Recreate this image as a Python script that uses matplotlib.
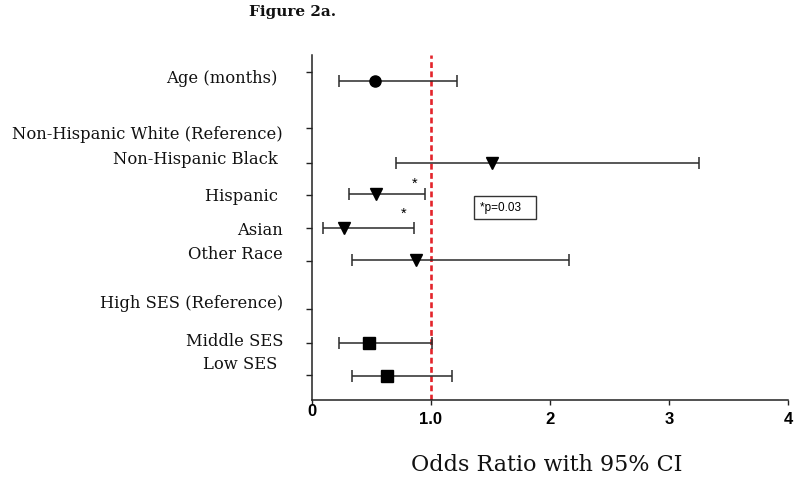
import matplotlib
matplotlib.use("Agg")
import matplotlib.pyplot as plt
import matplotlib.transforms as mtransforms

# ---- data ----
labels = ["Age (months) ", "Non-Hispanic White (Reference)", "Non-Hispanic Black ",
          "Hispanic ", "Asian", "Other Race", "High SES (Reference)",
          "Middle SES", "Low SES "]
odds = [0.53, None, 1.51, 0.54, 0.27, 0.87, None, 0.48, 0.63]
ci_low = [0.23, None, 0.71, 0.31, 0.09, 0.34, None, 0.23, 0.34]
ci_high = [1.22, None, 3.25, 0.95, 0.86, 2.16, None, 1.01, 1.18]
markers = ["o", None, "v", "v", "v", "v", None, "s", "s"]
significant = [False, False, False, True, True, False, False, False, False]
xticks = [0, 1, 2, 3, 4]
xticklabels = ["0", "1.0", "2", "3", "4"]

# ---- layout (vertical positions in pixel rows of the figure) ----
tick_rows = [72, 128, 163, 195, 228, 261, 309, 343, 375]
mark_rows = [81, 128, 163, 194, 228, 260, 309, 343, 376]
label_base = [83, 139, 164, 201, 235, 259, 308, 346, 369]
star_dy = [0, 0, 0, -10, -14, 0, 0, 0, 0]

W, H = 800, 482
fig = plt.figure(figsize=(W / 100, H / 100), dpi=100)
ax = fig.add_axes([312 / W, (H - 400) / H, 476 / W, 345 / H])
ax.set_xlim(0, 4)
ax.set_ylim(400, 55)

ax.spines["top"].set_visible(False)
ax.spines["right"].set_visible(False)
for s in ("left", "bottom"):
    ax.spines[s].set_linewidth(1.1)
    ax.spines[s].set_color("#222222")

# reference line
ax.axvline(1.0, color="#e3242b", lw=1.9, ls=(0, (2.2, 1.3)), zorder=1)

line_color = "#2a2a2a"
for i in range(len(labels)):
    if odds[i] is None:
        continue
    y = mark_rows[i]
    ax.errorbar([odds[i]], [y],
                xerr=[[odds[i] - ci_low[i]], [ci_high[i] - odds[i]]],
                fmt=markers[i], color="black", ecolor=line_color,
                elinewidth=1.1, capsize=4.2, capthick=1.1,
                markersize={"o": 8, "v": 9, "s": 8.5}[markers[i]], zorder=3)
    if significant[i]:
        ax.text(ci_high[i] - 0.09, y + star_dy[i], "*", ha="center", va="center",
                fontsize=10.5, family="Liberation Sans", color="black")

ax.text(1.41, 207.5, "*p=0.03   ", ha="left", va="center", fontsize=8.5,
        family="Liberation Sans",
        bbox=dict(boxstyle="square,pad=0.45", fc="white", ec="#333333", lw=1))

# y ticks and labels
ax.set_yticks(tick_rows)
ax.set_yticklabels([])
ax.tick_params(axis="y", length=4.3, width=1.0, color="#222222")
trans_lab = mtransforms.blended_transform_factory(fig.transFigure, ax.transData)
for lab, yb in zip(labels, label_base):
    ax.text(283 / W, yb, lab, transform=trans_lab, ha="right", va="baseline",
            fontsize=11.8, family="DejaVu Serif", color="#111111")

# x ticks
ax.set_xticks(xticks)
ax.set_xticklabels(xticklabels, fontsize=12, fontweight="bold",
                   family="Liberation Sans")
ax.tick_params(axis="x", length=3.8, width=1.0, color="#222222", pad=5)
for t in ax.get_xticklabels():
    if t.get_text() == "0":
        t.set_transform(t.get_transform() +
                        mtransforms.ScaledTranslation(0, 8 / 100, fig.dpi_scale_trans))

fig.text(547 / W, 1 - 465 / H, "Odds Ratio with 95% CI", ha="center",
         va="center", fontsize=16, family="DejaVu Serif", color="#111111")
fig.text(293 / W, 1 - 12 / H, "Figure 2a.", ha="center", va="center",
         fontsize=11, fontweight="bold", family="DejaVu Serif", color="#111111")

fig.savefig("out.png", dpi=100)
